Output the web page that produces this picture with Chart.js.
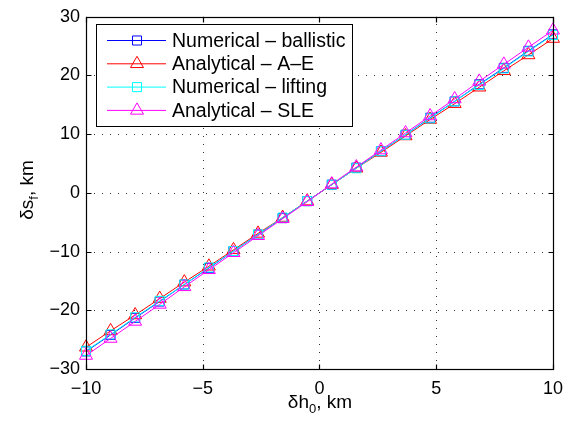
<!DOCTYPE html>
<html>
<head>
<meta charset="utf-8">
<script src="https://cdn.jsdelivr.net/npm/chart.js@4.4.1/dist/chart.umd.min.js"></script>
<style>
  html, body { margin: 0; padding: 0; background: #fff; }
  #wrap { width: 572px; height: 424px; }
</style>
</head>
<body>
<div id="wrap"><canvas id="chart"></canvas></div>
<script>
// dh0 sample points, km
const dh0 = [-10, -8.947, -7.895, -6.842, -5.789, -4.737, -3.684, -2.632, -1.579, -0.526,
             0.526, 1.579, 2.632, 3.684, 4.737, 5.789, 6.842, 7.895, 8.947, 10];

// dsf values, km
const numBallistic = [-27.0, -24.2, -21.3, -18.5, -15.6, -12.8, -9.9, -7.1, -4.3, -1.4,
                      1.4, 4.3, 7.1, 9.9, 12.8, 15.6, 18.5, 21.3, 24.2, 27.0];
const anaAE = [-26.3, -23.5, -20.8, -18.0, -15.2, -12.5, -9.7, -6.9, -4.2, -1.4,
               1.4, 4.2, 6.9, 9.7, 12.5, 15.2, 18.0, 20.8, 23.5, 26.3];
const numLifting = [-26.9, -24.1, -21.2, -18.4, -15.6, -12.7, -9.9, -7.1, -4.2, -1.4,
                    1.4, 4.2, 7.1, 9.9, 12.7, 15.6, 18.4, 21.2, 24.1, 26.9];
const anaSLE = [-27.7, -24.8, -21.9, -19.0, -16.0, -13.1, -10.2, -7.3, -4.4, -1.5,
                1.5, 4.4, 7.3, 10.2, 13.1, 16.0, 19.0, 21.9, 24.8, 27.7];

const xTicks = [-10, -5, 0, 5, 10];
const yTicks = [-30, -20, -10, 0, 10, 20, 30];

const FONT = '"Liberation Sans", Arial, Helvetica, sans-serif';

function pts(ys) {
    return dh0.map((x, i) => ({ x: x, y: ys[i] }));
}

function series(label, ys, color, style, radius, order) {
    return {
        label: label,
        data: pts(ys),
        borderColor: color,
        backgroundColor: 'transparent',
        borderWidth: 1,
        pointStyle: style,
        pointRadius: radius,
        pointBorderColor: color,
        pointBackgroundColor: 'transparent',
        pointBorderWidth: 1,
        tension: 0,
        clip: false,
        order: order
    };
}

const datasets = [
    series('Numerical \u2013 ballistic', numBallistic, '#0000ff', 'rect', 6.4, 4),
    series('Analytical \u2013 A\u2013E', anaAE, '#ff0000', 'triangle', 7.5, 3),
    series('Numerical \u2013 lifting', numLifting, '#00ffff', 'rect', 6.4, 2),
    series('Analytical \u2013 SLE', anaSLE, '#ff00ff', 'triangle', 7.5, 1)
];

function marker(ctx, style, x, y, r) {
    ctx.beginPath();
    if (style === 'rect') {
        const s = r * Math.SQRT1_2;
        ctx.rect(x - s, y - s, 2 * s, 2 * s);
    } else {
        ctx.moveTo(x, y - r);
        ctx.lineTo(x + r * Math.sin(2 * Math.PI / 3), y + r / 2);
        ctx.lineTo(x - r * Math.sin(2 * Math.PI / 3), y + r / 2);
        ctx.closePath();
    }
    ctx.stroke();
}

// matlab-like box, dotted grid, inward ticks, legend and axis titles
const matlabAxes = {
    id: 'matlabAxes',
    beforeDatasetsDraw(chart) {
        const ctx = chart.ctx, a = chart.chartArea;
        const xs = chart.scales.x, ys = chart.scales.y;
        ctx.save();
        ctx.strokeStyle = '#333';
        ctx.lineWidth = 1;
        ctx.setLineDash([1, 7]);
        xTicks.forEach(v => {
            const px = Math.round(xs.getPixelForValue(v)) + 0.5;
            ctx.beginPath(); ctx.moveTo(px, a.bottom); ctx.lineTo(px, a.top); ctx.stroke();
        });
        yTicks.forEach(v => {
            const py = Math.round(ys.getPixelForValue(v)) + 0.5;
            ctx.beginPath(); ctx.moveTo(a.left, py); ctx.lineTo(a.right, py); ctx.stroke();
        });
        ctx.restore();
    },
    afterDraw(chart) {
        const ctx = chart.ctx, a = chart.chartArea;
        const xs = chart.scales.x, ys = chart.scales.y;
        const L = Math.round(a.left) + 0.5, R = Math.round(a.right) + 0.5;
        const T = Math.round(a.top) + 0.5, B = Math.round(a.bottom) + 0.5;
        ctx.save();
        ctx.strokeStyle = '#000';
        ctx.lineWidth = 1.2;
        ctx.strokeRect(L, T, R - L, B - T);
        const tl = 5;
        ctx.beginPath();
        xTicks.forEach(v => {
            const px = Math.round(xs.getPixelForValue(v)) + 0.5;
            ctx.moveTo(px, B); ctx.lineTo(px, B - tl);
            ctx.moveTo(px, T); ctx.lineTo(px, T + tl);
        });
        yTicks.forEach(v => {
            const py = Math.round(ys.getPixelForValue(v)) + 0.5;
            ctx.moveTo(L, py); ctx.lineTo(L + tl, py);
            ctx.moveTo(R, py); ctx.lineTo(R - tl, py);
        });
        ctx.stroke();

        // legend
        const lx = 96.5, ly = 24.5, lw = 256, lh = 102;
        ctx.fillStyle = '#fff';
        ctx.fillRect(lx, ly, lw, lh);
        ctx.lineWidth = 1;
        ctx.strokeRect(lx, ly, lw, lh);
        ctx.font = '19.5px ' + FONT;
        ctx.textBaseline = 'middle';
        ctx.textAlign = 'left';
        datasets.forEach((d, i) => {
            const y = 40.5 + i * 23.3;
            ctx.strokeStyle = d.borderColor;
            ctx.lineWidth = 1;
            ctx.beginPath(); ctx.moveTo(107, y); ctx.lineTo(166, y); ctx.stroke();
            marker(ctx, d.pointStyle, 137, y, d.pointRadius);
            ctx.fillStyle = '#000';
            ctx.fillText(d.label, 172, y + 1);
        });

        // axis titles with subscripts
        function subLabel(main, sub, rest, cx, baseline, rotate) {
            ctx.save();
            ctx.textBaseline = 'alphabetic';
            ctx.textAlign = 'left';
            ctx.fillStyle = '#000';
            const big = '19px ' + FONT, small = '13px ' + FONT;
            ctx.font = big; const w1 = ctx.measureText(main).width;
            ctx.font = small; const w2 = ctx.measureText(sub).width;
            ctx.font = big; const w3 = ctx.measureText(rest).width;
            const w = w1 + w2 + w3;
            if (rotate) {
                ctx.translate(baseline, cx);
                ctx.rotate(-Math.PI / 2);
            } else {
                ctx.translate(cx, baseline);
            }
            let x = -w / 2;
            ctx.font = big; ctx.fillText(main, x, 0); x += w1;
            ctx.font = small; ctx.fillText(sub, x, 5); x += w2;
            ctx.font = big; ctx.fillText(rest, x, 0);
            ctx.restore();
        }
        subLabel('\u03b4h', '0', ', km', 320, 408, false);
        subLabel('\u03b4s', 'f', ', km', 190, 33, true);
        ctx.restore();
    }
};

const tickFmt = v => String(v).replace('-', '\u2212');

new Chart(document.getElementById('chart'), {
    type: 'line',
    data: { datasets: datasets },
    options: {
        responsive: true,
        maintainAspectRatio: false,
        animation: false,
        layout: { padding: { top: 15, right: 17, left: 0, bottom: 0 } },
        plugins: {
            legend: { display: false },
            tooltip: { enabled: false },
            title: { display: false }
        },
        scales: {
            x: {
                type: 'linear',
                min: -10, max: 10,
                afterFit(scale) { scale.height = 55; },
                afterBuildTicks(scale) { scale.ticks = xTicks.map(v => ({ value: v })); },
                grid: { display: false, drawTicks: false, tickLength: 0 },
                border: { display: false },
                ticks: {
                    color: '#000',
                    font: { family: FONT, size: 18 },
                    padding: 9,
                    maxRotation: 0,
                    callback: tickFmt
                }
            },
            y: {
                type: 'linear',
                min: -30, max: 30,
                afterFit(scale) { scale.width = 86; },
                afterBuildTicks(scale) { scale.ticks = yTicks.map(v => ({ value: v })); },
                grid: { display: false, drawTicks: false, tickLength: 0 },
                border: { display: false },
                ticks: {
                    color: '#000',
                    font: { family: FONT, size: 18 },
                    padding: 6,
                    callback: tickFmt
                }
            }
        }
    },
    plugins: [matlabAxes]
});
</script>
</body>
</html>
